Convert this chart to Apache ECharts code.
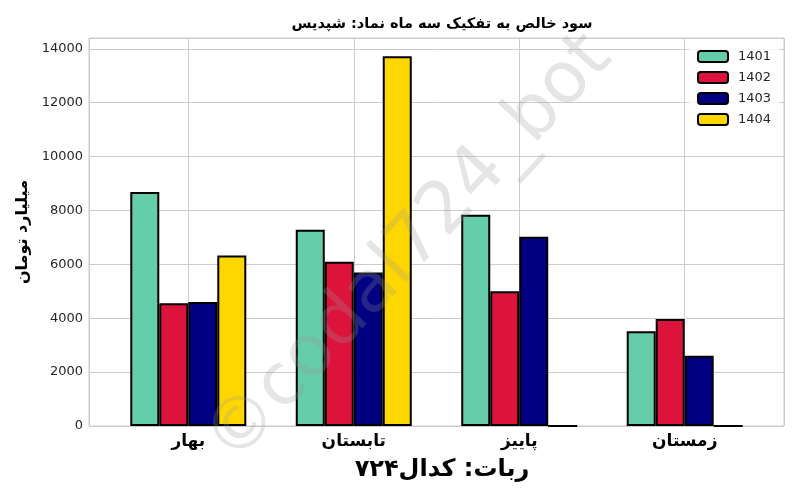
<!DOCTYPE html>
<html>
<head>
<meta charset="utf-8">
<script src="https://cdn.jsdelivr.net/npm/echarts@6/dist/echarts.min.js"></script>
<style>html,body{margin:0;padding:0;background:#fff;}#c{width:800px;height:500px;}</style>
</head>
<body>
<div id="c"></div>
<script>
const categories = ['بهار', 'تابستان', 'پاییز', 'زمستان'];
const years = ['1401', '1402', '1403', '1404'];
const v1401 = [8680, 7280, 7840, 3520];
const v1402 = [4560, 6100, 5000, 3970];
const v1403 = [4600, 5700, 7020, 2610];
const v1404 = [6330, 13720, 0, 0];
const yTicks = [0, 2000, 4000, 6000, 8000, 10000, 12000, 14000];
const colors = ['#66CDAA', '#DC143C', '#000080', '#FFD700'];
const seriesValues = [v1401, v1402, v1403, v1404];

const FONT = "'DejaVu Sans', sans-serif";
const chart = echarts.init(document.getElementById('c'), null, {renderer: 'canvas'});

const series = years.map((y, k) => ({
  name: y,
  type: 'bar',
  barWidth: 29,
  barGap: '0%',
  data: categories.map((c, i) => [i, seriesValues[k][i]]),
  itemStyle: {color: colors[k], borderColor: '#000', borderWidth: 2},
  emphasis: {disabled: true},
  z: 2
}));

chart.setOption({
  animation: false,
  backgroundColor: '#fff',
  title: [
    {text: 'سود خالص به تفکیک سه ماه نماد: شپدیس', left: 437, top: 12, textAlign: 'center',
     textStyle: {fontFamily: FONT, fontWeight: 'bold', fontSize: 14.5, color: '#000'}},
    {text: 'ربات: کدال۷۲۴', left: 437, top: 453, textAlign: 'center',
     textStyle: {fontFamily: FONT, fontWeight: 'bold', fontSize: 24, color: '#000'}}
  ],
  legend: {
    orient: 'vertical', left: 689, top: 42, padding: 8,
    itemWidth: 30, itemHeight: 11, itemGap: 8,
    backgroundColor: 'rgba(255,255,255,0.8)',
    textStyle: {fontFamily: FONT, fontSize: 13, color: '#262626', lineHeight: 13, padding: [0, 0, 0, 5]},
    data: years
  },
  grid: {left: 89, right: 16, top: 38, bottom: 74, show: true, borderColor: '#cccccc', borderWidth: 1, backgroundColor: '#fff'},
  xAxis: {
    type: 'value', min: -0.6, max: 3.6, splitNumber: 4,
    axisLine: {show: false}, axisTick: {show: false},
    splitLine: {show: true, lineStyle: {color: '#cccccc', width: 1}},
    axisLabel: {
      margin: 7,
      fontFamily: FONT, fontWeight: 'bold', fontSize: 17, color: '#000',
      showMinLabel: false, showMaxLabel: false,
      formatter: v => (Math.abs(v - Math.round(v)) < 1e-6 && categories[Math.round(v)] !== undefined) ? categories[Math.round(v)] : ''
    }
  },
  yAxis: {
    type: 'value', min: 0, max: 14400, interval: 2000,
    name: 'میلیارد تومان', nameLocation: 'middle', nameGap: 58, nameRotate: 90,
    nameTextStyle: {fontFamily: FONT, fontWeight: 'bold', fontSize: 16, color: '#000'},
    axisLine: {show: false}, axisTick: {show: false},
    splitLine: {show: true, lineStyle: {color: '#cccccc', width: 1}},
    axisLabel: {
      margin: 6, fontFamily: FONT, fontSize: 13, color: '#262626', showMaxLabel: false,
      formatter: v => yTicks.indexOf(v) >= 0 ? String(v) : ''
    }
  },
  graphic: [{
    type: 'text', x: 410, y: 250, rotation: 0.82, z: 100, silent: true,
    style: {text: '©codal724_bot', fontFamily: FONT, fontSize: 72, fill: 'rgba(150,150,150,0.25)',
            align: 'center', verticalAlign: 'middle'}
  }],
  series: series
});
</script>
</body>
</html>
